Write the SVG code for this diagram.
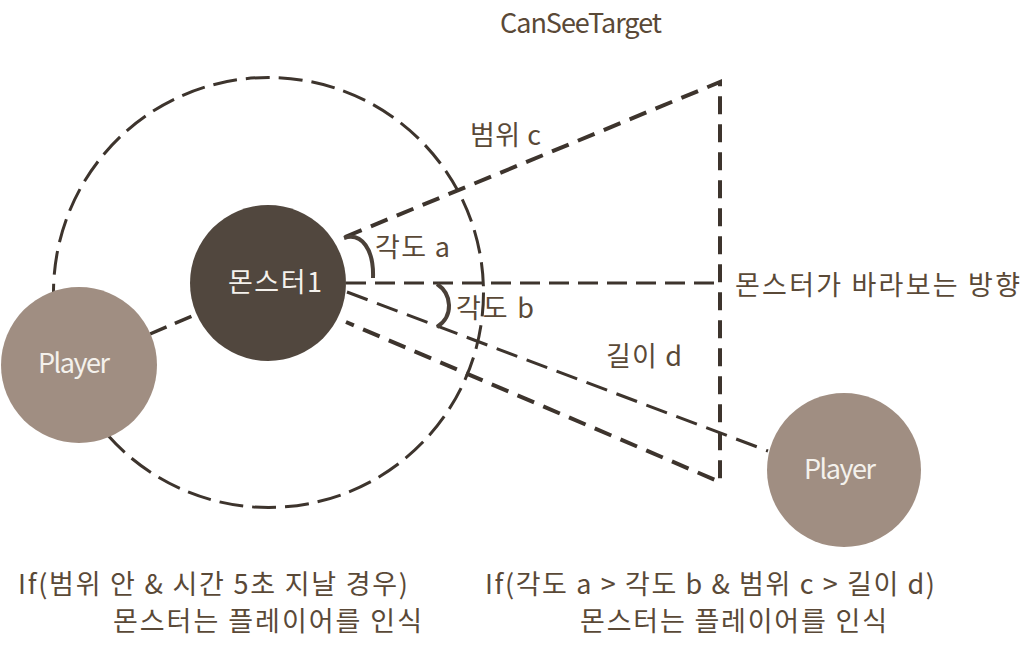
<svg xmlns="http://www.w3.org/2000/svg" width="1036" height="652" viewBox="0 0 1036 652">
<style>
text { font-family: "Noto Sans CJK KR", "Noto Sans", sans-serif; font-size: 27px; fill: #5a4937; }
.light { fill: #f4f1ec; }
.dash { fill: none; stroke: #3d342d; }
.arc { fill: none; stroke: #4a4038; stroke-width: 4; }
</style>
<rect width="1036" height="652" fill="#ffffff"/>
<g id="connectors">
  <circle id="range-circle" cx="268.5" cy="292.5" r="215" class="dash" stroke-width="3" stroke-dasharray="24 9"/>
  <path id="cone" d="M 345 237 L 720 82 L 720 482 L 346 322" class="dash" stroke-width="4" stroke-dasharray="18 10" stroke-linejoin="miter"/>
  <line id="facing" x1="346" y1="283" x2="720" y2="283" class="dash" stroke-width="3" stroke-dasharray="20 9"/>
  <line id="to-player-right" x1="347" y1="292" x2="768" y2="451" class="dash" stroke-width="3" stroke-dasharray="22 10"/>
  <line id="to-player-left" x1="150" y1="334" x2="197" y2="314" class="dash" stroke-width="3.5" stroke-dasharray="18 9"/>
  <path id="arc-a" d="M 344 238 C 362 232 374 250 373 278" class="arc"/>
  <path id="arc-b" d="M 437 284 C 452 294 454 316 437 327" class="arc"/>
</g>
<g id="monster">
  <circle cx="268" cy="283" r="78" fill="#51473e"/>
  <text x="228" y="292" textLength="94" class="light">몬스터1</text>
</g>
<g id="player-left">
  <circle cx="79" cy="365" r="78" fill="#a08e82"/>
  <text x="38" y="373" textLength="72" class="light">Player</text>
</g>
<g id="player-right">
  <circle cx="844" cy="470" r="77" fill="#a08e82"/>
  <text x="804" y="479" textLength="72" class="light">Player</text>
</g>
<g id="labels">
  <text x="500" y="33" textLength="162">CanSeeTarget</text>
  <text x="470" y="145" textLength="71">범위 c</text>
  <text x="375" y="257" textLength="75">각도 a</text>
  <text x="456" y="318" textLength="78">각도 b</text>
  <text x="735" y="295" textLength="285">몬스터가 바라보는 방향</text>
  <text x="606" y="366" textLength="76">길이 d</text>
  <text x="18" y="594" textLength="390">If(범위 안 &amp; 시간 5초 지날 경우)</text>
  <text x="113" y="631" textLength="309">몬스터는 플레이어를 인식</text>
  <text x="485" y="594" textLength="450">If(각도 a &gt; 각도 b &amp; 범위 c &gt; 길이 d)</text>
  <text x="580" y="631" textLength="307">몬스터는 플레이어를 인식</text>
</g>
</svg>
